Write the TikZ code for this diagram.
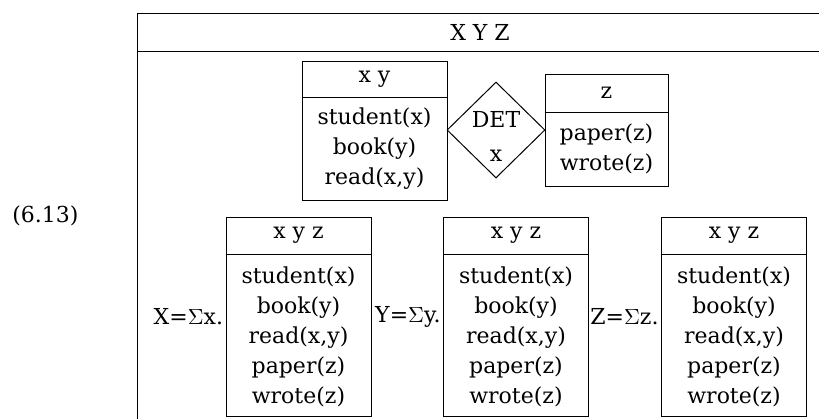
\documentclass[tikz,border=0pt]{standalone}
\usepackage{fontspec}
\setmainfont{DejaVu Serif}
\usepackage{tikz}
\usetikzlibrary{calc,shapes.geometric}
\tikzset{
  drsbox/.style={draw,inner sep=0pt},
  drstext/.style={align=center,inner sep=0pt,font=\fontsize{11}{15}\selectfont},
  cond/.style={draw,diamond,inner sep=0pt,minimum width=49pt,minimum height=48pt}
}

\begin{document}
\begin{tikzpicture}[x=.5pt,y=-.5pt,line width=.5pt]
\useasboundingbox (0,0) rectangle (819,419);
% frame, open at the right and at the bottom
\coordinate (fnw) at (137,13);
\coordinate (fne) at (819,13);
\coordinate (fsw) at (137,419);
\coordinate (hw) at (137,51);
\coordinate (he) at (819,51);
\draw (fne) -- (fnw) -- (fsw);
\draw (hw) -- (he);
\node[drstext] (xyz) at (480,32) {X Y Z};
\node[drstext,anchor=east] (num) at (79,216) {(6.13)};

\node[drsbox,minimum width=72.5pt,minimum height=69.5pt] (b1) at (374.5,130.5) {};
\draw ($(b1.north west)+(0,37)$) -- ($(b1.north east)+(0,37)$);
\node[drstext] (b1h) at ($(b1.north)+(0,18.5)$) {x y};
\node[drstext] (b1b) at ($(b1.north)+(0,88.5)$) {student(x)\\book(y)\\read(x,y)};

\node[cond] (det) at (496,130) {};
\node[drstext] (dett) at ($(det)+(0,6)$) {DET\\[2pt]x};

\node[drsbox,minimum width=61.5pt,minimum height=56pt] (b2) at (606.5,130) {};
\draw ($(b2.north west)+(0,39)$) -- ($(b2.north east)+(0,39)$);
\node[drstext] (b2h) at ($(b2.north)+(0,19.5)$) {z};
\node[drstext] (b2b) at ($(b2.north)+(0,75)$) {paper(z)\\wrote(z)};

\foreach \n/\x/\V/\v in {dA/298.5/X/x, dB/516/Y/y, dC/734/Z/z} {
  \node[drsbox,minimum width=72.5pt,minimum height=99.5pt] (\n) at (\x,316.5) {};
  \draw ($(\n.north west)+(0,38)$) -- ($(\n.north east)+(0,38)$);
  \node[drstext] (\n h) at ($(\n.north)+(0,19)$) {x y z};
  \node[drstext] (\n b) at ($(\n.north)+(0,120)$) {student(x)\\book(y)\\read(x,y)\\paper(z)\\wrote(z)};
  \node[drstext,anchor=east,inner sep=1pt] (\n l) at (\n.west) {\V=$\Sigma$\v.};
}
\end{tikzpicture}
\end{document}
